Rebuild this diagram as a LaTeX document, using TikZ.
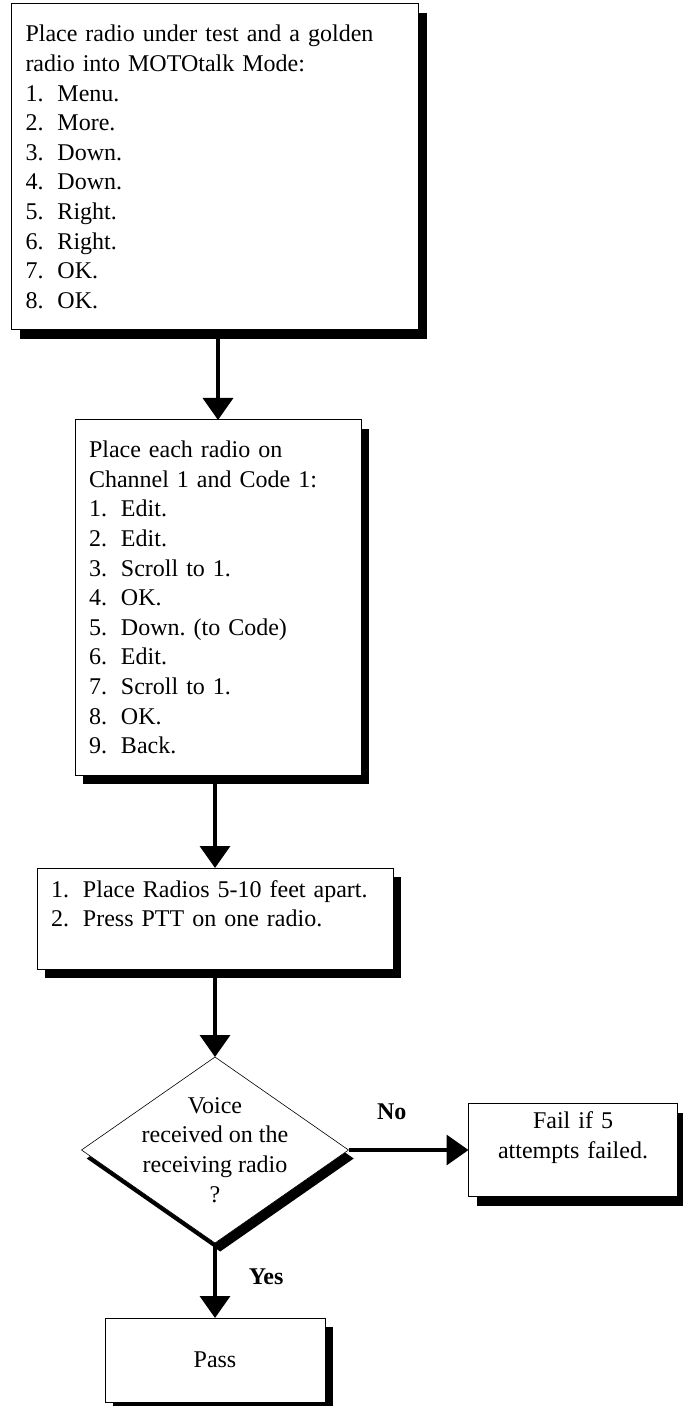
\documentclass[tikz,border=0pt]{standalone}
\usepackage{fontspec}
\setmainfont{Liberation Serif}
\usetikzlibrary{shapes.geometric, arrows.meta, positioning, shadows}
\newcommand{\stepno}[1]{\makebox[16pt][l]{#1}}
\frenchspacing

\begin{document}
\begin{tikzpicture}[
    node distance=45pt,
    txt/.style={font=\fontsize{12pt}{14.8pt}\selectfont},
    stepbox/.style={txt, draw, line width=0.5pt, fill=white, align=left, inner xsep=7pt, inner ysep=0pt, outer sep=0pt,
        drop shadow={shadow xshift=4pt, shadow yshift=-4.5pt, fill=black, opacity=1}},
    endbox/.style={stepbox, align=center},
    decision/.style={diamond, draw, line width=0.3pt, fill=white, inner sep=0pt, outer sep=0pt, minimum width=133.5pt, minimum height=93pt,
        drop shadow={shadow xshift=2.6pt, shadow yshift=-4.25pt, fill=black, opacity=1}},
    arrow/.style={-{Triangle[width=15pt, length=11pt]}, line width=1.8pt},
    answer/.style={font=\bfseries\fontsize{12pt}{14.8pt}\selectfont, inner sep=0pt}
]

\useasboundingbox (0,0) rectangle (341.5pt,-703pt);

% Steps
\node[stepbox, anchor=north, text width=189.5pt, minimum height=163pt] (mode) at (107.5pt,-2pt)
    {Place radio under test and a golden\\radio into MOTOtalk Mode:\\
     \stepno{1.}Menu.\\\stepno{2.}More.\\\stepno{3.}Down.\\\stepno{4.}Down.\\
     \stepno{5.}Right.\\\stepno{6.}Right.\\\stepno{7.}OK.\\\stepno{8.}OK.};
\node[stepbox, below=45pt of mode, xshift=1.5pt, text width=129pt, minimum height=177.5pt] (channel)
    {Place each radio on\\Channel 1 and Code 1:\\
     \stepno{1.}Edit.\\\stepno{2.}Edit.\\\stepno{3.}Scroll to 1.\\\stepno{4.}OK.\\
     \stepno{5.}Down. (to Code)\\\stepno{6.}Edit.\\\stepno{7.}Scroll to 1.\\
     \stepno{8.}OK.\\\stepno{9.}Back.};
\node[stepbox, below=46.5pt of mode.south |- channel.south, anchor=north, text width=164pt, minimum height=50.5pt] (spacing)
    {\stepno{1.}Place Radios 5-10 feet apart.\\\stepno{2.}Press PTT on one radio.\\~};

% Decision
\node[decision, below=44pt of spacing] (check) {};
\node[txt, align=center, inner sep=0pt] (checktext) at (check) {Voice\\received on the\\receiving radio\\?};

% Results
\node[endbox, right=60pt of check, text width=90.5pt, minimum height=46.5pt] (fail) {Fail if 5\\attempts failed.\\~};
\node[endbox, below=37.5pt of check, text width=96pt, minimum height=42pt] (pass) {Pass};

% Arrows
\draw[arrow] (mode.south -| channel.north) -- (channel.north);
\draw[arrow] (channel.south -| spacing.north) -- (spacing.north);
\draw[arrow] (spacing) -- (check);
\draw[arrow] (check.east) -- node[answer, above=14pt, pos=0.36] {No} (fail.west);
\draw[arrow] (check) -- node[answer, right=16pt, pos=0.45] {Yes} (pass);

\end{tikzpicture}
\end{document}
